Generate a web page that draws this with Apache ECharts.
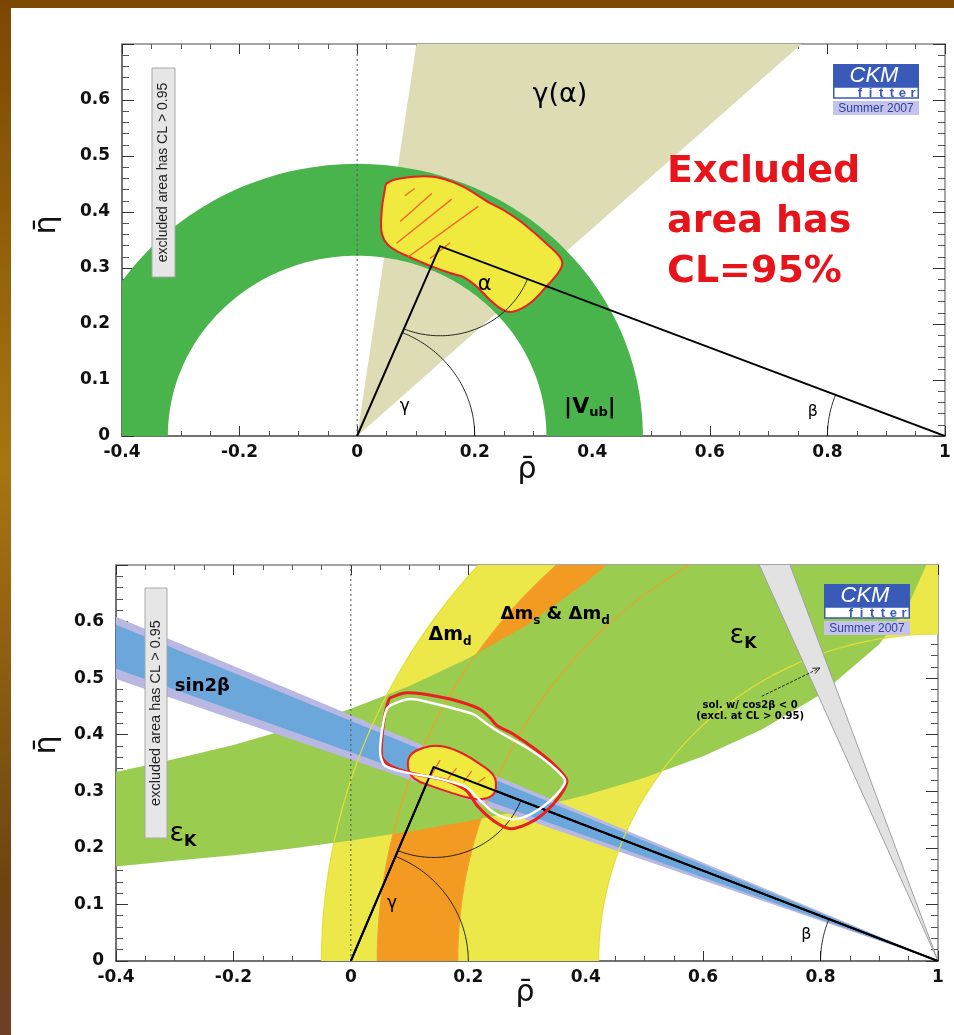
<!DOCTYPE html>
<html>
<head>
<meta charset="utf-8">
<title>CKM fitter – unitarity triangle constraints</title>
<script src="https://cdn.jsdelivr.net/npm/echarts@6/dist/echarts.min.js"></script>
<style>
  html, body { margin: 0; padding: 0; background: #ffffff; }
  #chart { width: 954px; height: 1035px; }
</style>
</head>
<body>
<div id="chart"></div>
<script>
// ---------------- axes ----------------
const rhoTicks = [-0.4, -0.2, 0, 0.2, 0.4, 0.6, 0.8, 1];
const etaTicks = [0, 0.1, 0.2, 0.3, 0.4, 0.5, 0.6];
const etaMax = 0.7;

// ---------------- upper panel: |Vub| and gamma(alpha) ----------------
const apexTop = [0.141, 0.339];                 // best-fit apex (rho, eta)
const vubRing = [0.322, 0.486];                 // |Vub| ring about the origin: inner / outer radius
const gammaAlphaWedge = [42.8, 81.8];           // gamma(alpha) wedge from the origin, degrees
const fitTopContour = [
  [0.050,0.451],[0.073,0.460],[0.129,0.463],[0.175,0.448],[0.226,0.416],[0.248,0.404],
  [0.282,0.380],[0.328,0.338],[0.348,0.314],[0.345,0.296],[0.322,0.267],[0.294,0.237],
  [0.265,0.222],[0.248,0.225],[0.226,0.243],[0.203,0.267],[0.180,0.284],[0.158,0.291],
  [0.129,0.302],[0.101,0.314],[0.056,0.338],[0.042,0.362],[0.042,0.404],[0.047,0.439]
];
const fitTopHatch = [
  [[0.081,0.429],[0.098,0.442]], [[0.073,0.383],[0.127,0.433]], [[0.067,0.344],[0.161,0.423]],
  [[0.087,0.320],[0.206,0.410]], [[0.124,0.317],[0.158,0.345]]
];

// ---------------- lower panel: global fit ----------------
const apexBottom = [0.141, 0.343];
const dmdRing = [0.578, 1.05];                  // Delta m_d ring about (1,0)
const dmsRing = [0.818, 0.955];                 // Delta m_s & Delta m_d ring about (1,0)
const epsKUpper = [
  [-0.45,0.324],[-0.4,0.334],[-0.3,0.357],[-0.2,0.382],[-0.1,0.412],[0,0.446],
  [0.1,0.486],[0.2,0.535],[0.3,0.594],[0.4,0.669],[0.45,0.713]
];
const epsKLower = [
  [-0.45,0.163],[-0.4,0.167],[-0.3,0.177],[-0.2,0.187],[-0.1,0.199],[0,0.213],
  [0.1,0.229],[0.2,0.247],[0.3,0.268],[0.4,0.293],[0.5,0.324],[0.6,0.362],
  [0.7,0.409],[0.8,0.471],[0.9,0.56],[0.95,0.63],[0.98,0.70],[1.0,0.74]
];
const sin2bOuter = [19.6, 23.5];                // beta range, degrees
const sin2bInner = [20.25, 23.0];
const cos2bNegWedge = [66.5, 70.2];             // cos2beta < 0 solution, degrees
const fitBottomContour = [
  [0.101,0.363],[0.124,0.377],[0.152,0.380],[0.186,0.369],[0.220,0.348],[0.243,0.328],
  [0.247,0.307],[0.240,0.292],[0.220,0.286],[0.198,0.289],[0.169,0.298],[0.135,0.310],
  [0.109,0.322],[0.098,0.339]
];
const fitBottomHatch = [
  [[0.135,0.325],[0.152,0.355]], [[0.163,0.319],[0.180,0.341]],
  [[0.192,0.316],[0.206,0.336]], [[0.217,0.316],[0.229,0.325]]
];
const excludedRed = [
  [0.067,0.465],[0.095,0.474],[0.129,0.471],[0.180,0.460],[0.220,0.445],[0.237,0.430],
  [0.249,0.416],[0.277,0.401],[0.317,0.372],[0.351,0.342],[0.368,0.319],[0.356,0.292],
  [0.328,0.260],[0.300,0.242],[0.271,0.234],[0.243,0.248],[0.215,0.275],[0.197,0.301],
  [0.163,0.319],[0.107,0.331],[0.067,0.345],[0.053,0.360],[0.053,0.395],[0.058,0.436],
  [0.064,0.460]
];
const excludedWhite = [
  [0.072,0.454],[0.101,0.463],[0.146,0.454],[0.209,0.436],[0.232,0.419],[0.249,0.407],
  [0.300,0.377],[0.339,0.348],[0.365,0.319],[0.351,0.295],[0.322,0.269],[0.294,0.254],
  [0.271,0.251],[0.243,0.263],[0.220,0.284],[0.197,0.307],[0.152,0.322],[0.095,0.333],
  [0.058,0.345],[0.050,0.366],[0.053,0.407],[0.061,0.445]
];
const cos2bArrow = [[0.700, 0.468], [0.799, 0.518]];

// ---------------- drawing helpers ----------------
const SANS = '"DejaVu Sans", "Liberation Sans", sans-serif';
const ARIAL = '"Liberation Sans", Arial, sans-serif';
const C = {
  khaki: '#dddcb4', green: '#48b44b', yellow: '#f0ea3e', red: '#e82020', hatch: '#f06428',
  epsK: '#9acc50', dmd: '#ece84a', dms: '#f39a22', blue: '#6ba7db', lav: '#b8b8e3', grey: '#e2e2e2'
};
const rad = d => d * Math.PI / 180;
const deg = r => r * 180 / Math.PI;

function arcPts(api, c, r, a0, a1, n) {
  n = n || 120;
  const pts = [];
  for (let i = 0; i <= n; i++) {
    const t = rad(a0 + (a1 - a0) * i / n);
    pts.push(api.coord([c[0] + r * Math.cos(t), c[1] + r * Math.sin(t)]));
  }
  return pts;
}
function annulusPts(api, c, r) {
  return arcPts(api, c, r[1], 0, 180).concat(arcPts(api, c, r[0], 180, 0));
}
function rayEnd(c, a) { return [c[0] + 3 * Math.cos(rad(a)), c[1] + 3 * Math.sin(rad(a))]; }
function wedgePts(api, c, a0, a1) {
  return [api.coord(c), api.coord(rayEnd(c, a0)), api.coord(rayEnd(c, a1))];
}
function poly(points, fill, stroke, lw, smooth) {
  return { type: 'polygon', shape: { points: points, smooth: smooth || 0 },
    style: { fill: fill, stroke: stroke || null, lineWidth: lw || 0 } };
}
function pline(points, stroke, lw, dash) {
  return { type: 'polyline', shape: { points: points },
    style: { fill: 'none', stroke: stroke, lineWidth: lw, lineDash: dash || null } };
}
const measureCtx = document.createElement('canvas').getContext('2d');
function textW(t, font) { measureCtx.font = font; return measureCtx.measureText(t).width; }
// a centred run of text pieces: [text, font, dy]
function textRun(x, y, parts, color) {
  const total = parts.reduce((s, p) => s + textW(p[0], p[1]), 0);
  let cx = x - total / 2;
  const out = [];
  parts.forEach(p => {
    out.push({ type: 'text', x: cx, y: y + (p[2] || 0),
      style: { text: p[0], font: p[1], fill: color || '#000',
        textAlign: 'left', textVerticalAlign: 'middle', align: 'left', verticalAlign: 'middle' } });
    cx += textW(p[0], p[1]);
  });
  return out;
}
function label(api, p, parts, color) {
  const q = api.coord(p);
  return textRun(q[0], q[1], parts, color);
}

function triangleEls(api, apex) {
  const o = [0, 0], b = [1, 0];
  const gam = deg(Math.atan2(apex[1], apex[0]));
  const bet = deg(Math.atan2(apex[1], 1 - apex[0]));
  const toO = deg(Math.atan2(-apex[1], -apex[0])) + 360;
  const toB = deg(Math.atan2(-apex[1], 1 - apex[0])) + 360;
  return [
    pline(arcPts(api, o, 0.2, 0, gam, 60), '#111', 0.9),
    pline(arcPts(api, apex, 0.16, toO, toB, 60), '#111', 0.9),
    pline(arcPts(api, b, 0.2, 180 - bet, 180, 30), '#111', 0.9),
    pline([api.coord(o), api.coord(apex), api.coord(b)], '#000', 2)
  ];
}
function zeroLine(api) {
  return pline([api.coord([0, 0]), api.coord([0, etaMax])], '#555', 1, [2, 3]);
}
function segs(api, list, color, lw) {
  return list.map(s => pline(s.map(p => api.coord(p)), color, lw));
}

// ---------------- panel renderers ----------------
function renderTop(params, api) {
  const c = p => api.coord(p);
  const ch = [];
  ch.push(poly(wedgePts(api, [0, 0], gammaAlphaWedge[0], gammaAlphaWedge[1]), C.khaki));
  ch.push(poly(annulusPts(api, [0, 0], vubRing), C.green));
  ch.push(poly(fitTopContour.map(c), C.yellow, C.red, 2, 0.35));
  ch.push.apply(ch, segs(api, fitTopHatch, C.hatch, 1.3));
  ch.push(zeroLine(api));
  ch.push.apply(ch, triangleEls(api, apexTop));
  return { type: 'group', children: ch };
}
function renderTopLabels(params, api) {
  let ch = [];
  ch = ch.concat(label(api, [0.345, 0.609], [['γ(α)', '27px ' + SANS, 0]]));
  ch = ch.concat(label(api, [0.217, 0.270], [['α', '21px ' + SANS, 0]]));
  ch = ch.concat(label(api, [0.081, 0.052], [['γ', '17px ' + SANS, 0]]));
  ch = ch.concat(label(api, [0.396, 0.052], [['|V', 'bold 22px ' + SANS, 0], ['ub', 'bold 13px ' + SANS, 6], ['|', 'bold 22px ' + SANS, 0]]));
  ch = ch.concat(label(api, [0.775, 0.043], [['β', '16px ' + SANS, 0]]));
  return { type: 'group', children: ch };
}
function renderBottom(params, api) {
  const c = p => api.coord(p);
  const ch = [];
  ch.push(poly(annulusPts(api, [1, 0], dmdRing), C.dmd));
  ch.push(poly(annulusPts(api, [1, 0], dmsRing), C.dms));
  ch.push(poly(epsKUpper.concat(epsKLower.slice().reverse()).map(c), C.epsK));
  ch.push(poly(wedgePts(api, [1, 0], 180 - sin2bOuter[1], 180 - sin2bOuter[0]), C.lav));
  ch.push(poly(wedgePts(api, [1, 0], 180 - sin2bInner[1], 180 - sin2bInner[0]), C.blue));
  // ring edges drawn over the eps_K band
  ch.push(pline(arcPts(api, [1, 0], dmdRing[0], 0, 180), '#e4de36', 1.2));
  ch.push(pline(arcPts(api, [1, 0], dmdRing[1], 0, 180), '#e4de36', 1.2));
  ch.push(pline(arcPts(api, [1, 0], dmsRing[0], 0, 180), '#f0a030', 1.2));
  ch.push(pline(arcPts(api, [1, 0], dmsRing[1], 0, 180), '#f0a030', 1.2));
  // cos2beta < 0 solution
  ch.push(poly(wedgePts(api, [1, 0], 180 - cos2bNegWedge[1], 180 - cos2bNegWedge[0]), C.grey));
  ch.push(pline([c([1, 0]), c(rayEnd([1, 0], 180 - cos2bNegWedge[0]))], '#a0a0a0', 1));
  ch.push(pline([c([1, 0]), c(rayEnd([1, 0], 180 - cos2bNegWedge[1]))], '#a0a0a0', 1));
  ch.push(zeroLine(api));
  ch.push.apply(ch, triangleEls(api, apexBottom));
  ch.push(poly(fitBottomContour.map(c), C.yellow, C.red, 2, 0.4));
  ch.push.apply(ch, segs(api, fitBottomHatch, C.hatch, 1.2));
  ch.push(triangleEls(api, apexBottom)[3]);
  ch.push(poly(excludedRed.map(c), 'none', C.red, 3, 0.25));
  ch.push(poly(excludedWhite.map(c), 'none', '#ffffff', 2.5, 0.25));
  return { type: 'group', children: ch };
}
function renderBottomLabels(params, api) {
  let ch = [];
  const b = 'bold ';
  ch = ch.concat(label(api, [0.169, 0.576], [['Δm', b + '19px ' + SANS, 0], ['d', b + '12px ' + SANS, 7]]));
  ch = ch.concat(label(api, [0.348, 0.613], [['Δm', b + '18px ' + SANS, 0], ['s', b + '12px ' + SANS, 7],
    [' & Δm', b + '18px ' + SANS, 0], ['d', b + '12px ' + SANS, 7]]));
  ch = ch.concat(label(api, [0.668, 0.574], [['ε', '27px ' + SANS, 0], ['K', b + '16px ' + SANS, 8]]));
  ch = ch.concat(label(api, [-0.286, 0.225], [['ε', '27px ' + SANS, 0], ['K', b + '16px ' + SANS, 8]]));
  ch = ch.concat(label(api, [-0.253, 0.486], [['sin2β', b + '18px ' + SANS, 0]]));
  ch = ch.concat(label(api, [0.070, 0.102], [['γ', '17px ' + SANS, 0]]));
  ch = ch.concat(label(api, [0.776, 0.046], [['β', '16px ' + SANS, 0]]));
  ch = ch.concat(label(api, [0.680, 0.452], [['sol. w/ cos2β < 0', b + '10px ' + SANS, 0]]));
  ch = ch.concat(label(api, [0.680, 0.432], [['(excl. at CL > 0.95)', b + '10px ' + SANS, 0]]));
  // arrow towards the cos2beta < 0 wedge
  const p1 = api.coord(cos2bArrow[0]), p2 = api.coord(cos2bArrow[1]);
  const dx = p2[0] - p1[0], dy = p2[1] - p1[1], L = Math.hypot(dx, dy);
  const ux = dx / L, uy = dy / L;
  ch.push(pline([p1, p2], '#222', 1, [3, 1.5]));
  ch.push(pline([[p2[0] - 7 * ux - 3 * uy, p2[1] - 7 * uy + 3 * ux], p2,
                 [p2[0] - 7 * ux + 3 * uy, p2[1] - 7 * uy - 3 * ux]], '#222', 1));
  return { type: 'group', children: ch };
}

// ---------------- axes ----------------
function xAxisCfg(grid, pos, showLabels) {
  return {
    type: 'value', gridIndex: grid, position: pos,
    min: rhoTicks[0], max: rhoTicks[rhoTicks.length - 1], interval: 0.2,
    axisLine: { show: true, onZero: false, lineStyle: { color: showLabels ? '#444' : '#888', width: 1.5 } },
    axisTick: { show: true, inside: true, length: 10, lineStyle: { color: '#333', width: 1 } },
    minorTick: { show: true, splitNumber: 4, length: 5, lineStyle: { color: '#555', width: 1 } },
    axisLabel: { show: showLabels, margin: 8, fontFamily: SANS, fontWeight: 'bold', fontSize: 17, color: '#111' },
    splitLine: { show: false }, minorSplitLine: { show: false }
  };
}
function yAxisCfg(grid, pos, showLabels) {
  return {
    type: 'value', gridIndex: grid, position: pos,
    min: etaTicks[0], max: etaMax, interval: 0.1,
    axisLine: { show: true, onZero: false, lineStyle: { color: showLabels ? '#444' : '#888', width: 1.5 } },
    axisTick: { show: true, inside: true, length: 12, lineStyle: { color: '#333', width: 1 } },
    minorTick: { show: true, splitNumber: 5, length: 7, lineStyle: { color: '#555', width: 1 } },
    axisLabel: { show: showLabels, margin: 12, showMaxLabel: false, fontFamily: SANS, fontWeight: 'bold', fontSize: 17, color: '#111' },
    splitLine: { show: false }, minorSplitLine: { show: false }
  };
}
function custom(idx, render, clip, z) {
  return { type: 'custom', coordinateSystem: 'cartesian2d', xAxisIndex: idx * 2, yAxisIndex: idx * 2,
    data: [[0, 0]], renderItem: render, clip: clip, silent: true, z: z, animation: false };
}

// ---------------- page decoration ----------------
function withZ(el, z) {
  el.z = z;
  if (el.children) el.children.forEach(c => withZ(c, z));
  return el;
}
function logo(x, y) {
  const blue = '#3a5ab8';
  const letters = 'fitter'.split('').map((ch, i) => ({
    type: 'text', x: 27 + i * 10.6, y: 29,
    style: { text: ch, font: 'bold 13px ' + ARIAL, fill: blue, textAlign: 'center', textVerticalAlign: 'middle' }
  }));
  return withZ({
    type: 'group', x: x, y: y, children: [
      { type: 'rect', shape: { x: 0, y: 0, width: 86, height: 23 }, style: { fill: blue } },
      { type: 'text', x: 41, y: 12, style: { text: 'CKM', font: 'italic 22px ' + ARIAL, fill: '#fff', textAlign: 'center', textVerticalAlign: 'middle' } },
      { type: 'rect', shape: { x: 0.75, y: 23, width: 84.5, height: 11 }, style: { fill: '#fff', stroke: blue, lineWidth: 1.5 } }
    ].concat(letters).concat([
      { type: 'rect', shape: { x: 0, y: 37, width: 86, height: 14 }, style: { fill: '#c3c3ec' } },
      { type: 'text', x: 43, y: 44.5, style: { text: 'Summer 2007', font: '12px ' + ARIAL, fill: '#3040a0', textAlign: 'center', textVerticalAlign: 'middle' } }
    ])
  }, 50);
}
function clBox(x, y, w, h, fs) {
  return withZ({
    type: 'group', children: [
      { type: 'rect', shape: { x: x, y: y, width: w, height: h }, style: { fill: '#e6e6e6', stroke: '#a8a8a8', lineWidth: 1 } },
      { type: 'text', x: x + w / 2, y: y + h / 2, rotation: Math.PI / 2,
        style: { text: 'excluded area has CL > 0.95', font: fs + 'px ' + ARIAL, fill: '#222', textAlign: 'center', textVerticalAlign: 'middle' } }
    ]
  }, 50);
}
function axisTitle(x, y, t, rot) {
  return { type: 'text', x: x, y: y, rotation: rot || 0, z: 50,
    style: { text: t, font: '30px ' + SANS, fill: '#111', textAlign: 'center', textVerticalAlign: 'middle' } };
}
function redLine(y, t) {
  return { type: 'text', x: 667, y: y, z: 50,
    style: { text: t, font: 'bold 38px ' + SANS, fill: '#e8141b', textAlign: 'left', textVerticalAlign: 'middle' } };
}

const chart = echarts.init(document.getElementById('chart'), null, { renderer: 'canvas' });
const option = {
  animation: false,
  backgroundColor: '#ffffff',
  grid: [
    { left: 122, top: 44, width: 823, height: 392 },
    { left: 116, top: 565, width: 822, height: 396 }
  ],
  xAxis: [xAxisCfg(0, 'bottom', true), xAxisCfg(0, 'top', false), xAxisCfg(1, 'bottom', true), xAxisCfg(1, 'top', false)],
  yAxis: [yAxisCfg(0, 'left', true), yAxisCfg(0, 'right', false), yAxisCfg(1, 'left', true), yAxisCfg(1, 'right', false)],
  series: [
    custom(0, renderTop, true, 2),
    custom(0, renderTopLabels, false, 3),
    custom(1, renderBottom, true, 2),
    custom(1, renderBottomLabels, false, 3)
  ],
  graphic: [
    { type: 'rect', z: 100, shape: { x: 0, y: 0, width: 954, height: 8 }, style: { fill: '#7d4a02' } },
    { type: 'rect', z: 100, shape: { x: 0, y: 0, width: 11, height: 1035 },
      style: { fill: new echarts.graphic.LinearGradient(0, 0, 0, 1, [
        { offset: 0, color: '#7a4802' }, { offset: 0.45, color: '#a67612' },
        { offset: 0.85, color: '#6f4410' }, { offset: 1, color: '#6e3f26' }]) } },
    clBox(152, 68, 23, 209, 14),
    clBox(145, 588, 22, 250, 14.5),
    logo(833, 64),
    logo(824, 584),
    redLine(172, 'Excluded'),
    redLine(222, 'area has'),
    redLine(272, 'CL=95%'),
    axisTitle(527, 470, 'ρ\u0304'),
    axisTitle(525, 993, 'ρ\u0304'),
    axisTitle(47, 225, 'η\u0304', Math.PI / 2),
    axisTitle(47, 745, 'η\u0304', Math.PI / 2)
  ]
};
chart.setOption(option);
</script>
</body>
</html>
